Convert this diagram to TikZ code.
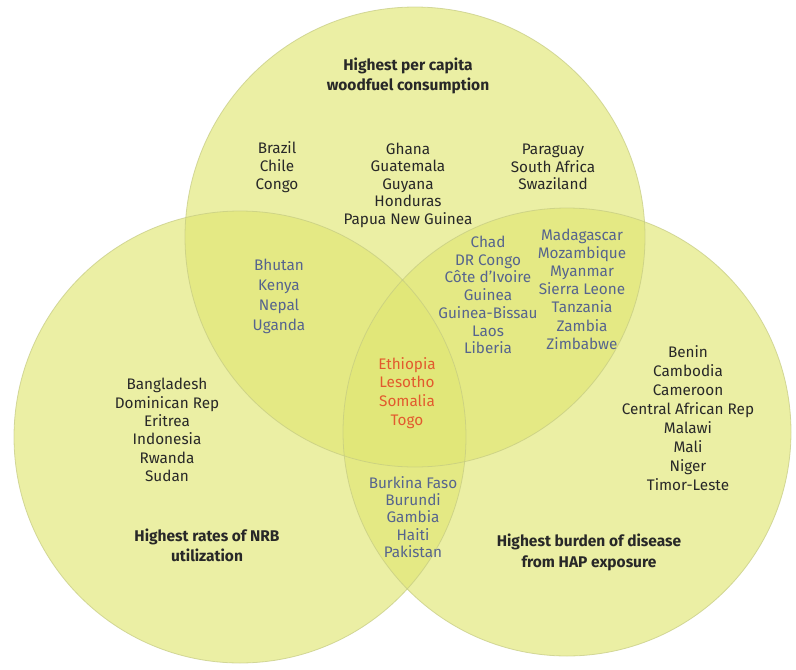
\documentclass[tikz,border=0pt]{standalone}
\usepackage{fontspec}
\setmainfont{Fira Sans}
\usetikzlibrary{calc}
\definecolor{VennClr}{RGB}{224,230,115}
\definecolor{EdgeClr}{RGB}{196,202,130}
\definecolor{TxtClr}{RGB}{40,40,40}
\definecolor{BlueClr}{RGB}{86,100,142}
\definecolor{RedClr}{RGB}{226,90,46}

\begin{document}
\begin{tikzpicture}[x=1pt,y=-1pt,
  venn/.style={fill=VennClr,fill opacity=0.65},
  rim/.style={draw=EdgeClr,draw opacity=0.7,line width=0.8pt},
  names/.style={align=center,inner sep=0pt,text=TxtClr,font=\fontsize{15.3}{#1}\selectfont},
  names/.default=17.6,
  blue names/.style={names=#1,text=BlueClr},
  blue names/.default=17.6,
  title/.style={align=center,inner sep=0pt,text=TxtClr,font=\bfseries\fontsize{15.5}{#1}\selectfont}]
\useasboundingbox (0,0) rectangle (796,670);

\coordinate (Wood) at (415,237);
\coordinate (NRB)  at (240,437);
\coordinate (HAP)  at (567,432);

\path[venn] (Wood) circle[radius=230pt];
\path[venn] (NRB) circle[radius=226pt];
\path[venn] (HAP) circle[radius=224pt];
\draw[rim] (Wood) circle[radius=230pt];
\draw[rim] (NRB) circle[radius=226pt];
\draw[rim] (HAP) circle[radius=224pt];

% circle titles
\node[title=20] (woodtitle) at (408,76) {Highest per capita\\woodfuel consumption};
\node[title=20] (nrbtitle) at (207,545) {Highest rates of NRB\\utilization};
\node[title=21] (haptitle) at (589,552) {Highest burden of disease\\from HAP exposure};

% woodfuel only
\node[names=18] (brazil) at (277,167) {Brazil\\Chile\\Congo};
\node[names=17.5] (ghana) at (408,185) {Ghana\\Guatemala\\Guyana\\Honduras\\Papua New Guinea};
\node[names=17.5] (paraguay) at (553,167) {Paraguay\\South Africa\\Swaziland};

% two circles
\node[blue names=20] (bhutan) at (279,296) {Bhutan\\Kenya\\Nepal\\Uganda};
\node[blue names=17.7] (chad) at (488,295) {Chad\\DR Congo\\Côte d’Ivoire\\Guinea\\Guinea-Bissau\\Laos\\Liberia};
\node[blue names=18.2] (madagascar) at (582,289) {Madagascar\\Mozambique\\Myanmar\\Sierra Leone\\Tanzania\\Zambia\\Zimbabwe};
\node[blue names=17.3] (burkina) at (413,517) {Burkina Faso\\Burundi\\Gambia\\Haiti\\Pakistan};

% all three
\node[names=18.7,text=RedClr] (ethiopia) at (407,393) {Ethiopia\\Lesotho\\Somalia\\Togo};

% NRB only, HAP only
\node[names=18.4] (bangladesh) at (167,430) {Bangladesh\\Dominican Rep\\Eritrea\\Indonesia\\Rwanda\\Sudan};
\node[names=18.9] (benin) at (688,418) {Benin\\Cambodia\\Cameroon\\Central African Rep\\Malawi\\Mali\\Niger\\Timor-Leste};

\end{tikzpicture}
\end{document}
